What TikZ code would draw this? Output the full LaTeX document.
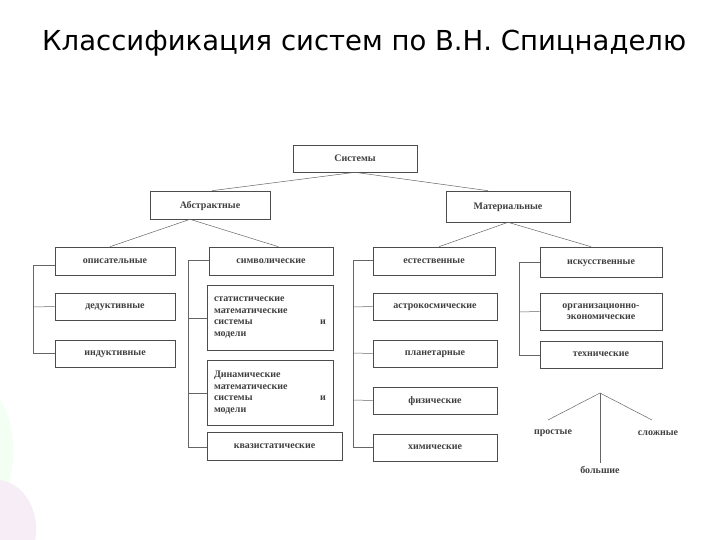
\documentclass[tikz,border=0pt]{standalone}
\usepackage{fontspec}
\setmainfont{Liberation Serif}
\newfontfamily\titlefont{DejaVu Sans}
\begin{document}
\begin{tikzpicture}[x=1pt,y=-1pt,
  bx/.style={draw=black!70,line width=0.6pt,font=\bfseries\fontsize{10}{11.5}\selectfont,text=black!75,inner sep=2pt,text depth=0pt},
  lb/.style={font=\bfseries\fontsize{10}{11.5}\selectfont,text=black!75},
  ln/.style={draw=black!60,line width=0.5pt}]
\useasboundingbox (0,0) rectangle (720,540);
\fill[white] (0,0) rectangle (720,540);
\fill[green!5] (0,400) .. controls (20,430) and (15,480) .. (0,510) -- cycle;
\fill[violet!7] (0,480) .. controls (30,485) and (40,520) .. (35,540) -- (0,540) -- cycle;
\node[anchor=west,font=\titlefont\fontsize{27.5}{31}\selectfont,inner sep=0pt] (title) at (42,43) {Классификация систем по В.Н. Спицнаделю};
\newcommand\bxat[6]{\node[bx,minimum width=#3-#1,minimum height=#4-#2] (#5) at ({(#1+#3)/2},{(#2+#4)/2}) {#6};}
\newcommand\bxatm[6]{\node[bx,text depth=,minimum width=#3-#1,minimum height=#4-#2] (#5) at ({(#1+#3)/2},{(#2+#4)/2}) {#6};}
\bxat{293}{145}{417}{172}{sys}{Системы}
\bxat{150}{191}{270}{219}{abs}{Абстрактные}
\bxat{446}{191}{570}{222}{mat}{Материальные}
\bxat{55}{247}{175}{275}{op}{описательные}
\bxat{55}{293}{175}{320}{ded}{дедуктивные}
\bxat{55}{340}{175}{367}{ind}{индуктивные}
\bxat{209}{247}{333}{275}{sym}{символические}
\bxatm{207}{285}{333}{350}{stat}{\parbox{112pt}{\raggedright статистические\\ математические\\ системы\hfill и\\ модели}}
\bxatm{207}{360}{333}{425}{din}{\parbox{112pt}{\raggedright Динамические\\ математические\\ системы\hfill и\\ модели}}
\bxat{207}{432}{342}{460}{kv}{квазистатические}
\bxat{373}{247}{495}{275}{est}{естественные}
\bxat{373}{293}{497}{320}{astr}{астрокосмические}
\bxat{373}{340}{497}{367}{plan}{планетарные}
\bxat{373}{387}{497}{414}{fiz}{физические}
\bxat{373}{434}{497}{461}{him}{химические}
\bxat{540}{247}{662}{277}{isk}{искусственные}
\bxatm{540}{293}{662}{330}{org}{\parbox{118pt}{\centering организационно-\\экономические}}
\bxat{540}{341}{662}{368}{teh}{технические}
\draw[ln] (sys.south) -- ([xshift=2pt]abs.north);
\draw[ln] (sys.south) -- ([xshift=-20pt]mat.north);
\draw[ln] ([xshift=-20pt]abs.south) -- ([xshift=-5pt]op.north);
\draw[ln] ([xshift=-20pt]abs.south) -- ([xshift=-55pt]sym.north east);
\draw[ln] (mat.south) -- ([xshift=5pt]est.north);
\draw[ln] (mat.south) -- ([xshift=-10pt]isk.north);
\coordinate (b1t) at (33,265); \coordinate (b1b) at (33,353);
\draw[ln] (op.west |- b1t) -- (b1t) -- (b1b) -- (ind.west |- b1b);
\draw[ln] (33,307) -- (ded.west);
\coordinate (b2t) at (188,260); \coordinate (b2b) at (188,447);
\draw[ln] (sym.west |- b2t) -- (b2t) -- (b2b) -- (kv.west |- b2b);
\draw[ln] (188,318) -- (stat.west |- 0,318);
\draw[ln] (188,393) -- (din.west |- 0,393);
\coordinate (b3t) at (353,260); \coordinate (b3b) at (353,447);
\draw[ln] (est.west |- b3t) -- (b3t) -- (b3b) -- (him.west |- b3b);
\draw[ln] (353,307) -- (astr.west);
\draw[ln] (353,353) -- (plan.west);
\draw[ln] (353,400) -- (fiz.west);
\coordinate (b4t) at (519,262); \coordinate (b4b) at (519,355);
\draw[ln] (isk.west |- b4t) -- (b4t) -- (b4b) -- (teh.west |- b4b);
\draw[ln] (519,312) -- (org.west);
\coordinate (ap) at (600,393);
\node[lb] (pr) at (553,433) {простые};
\node[lb] (sl) at (658,433) {сложные};
\node[lb] (bo) at (600,470) {большие};
\draw[ln] (ap) -- (548,420);
\draw[ln] (ap) -- (652,420);
\draw[ln] (ap) -- (bo.north);
\end{tikzpicture}
\end{document}
